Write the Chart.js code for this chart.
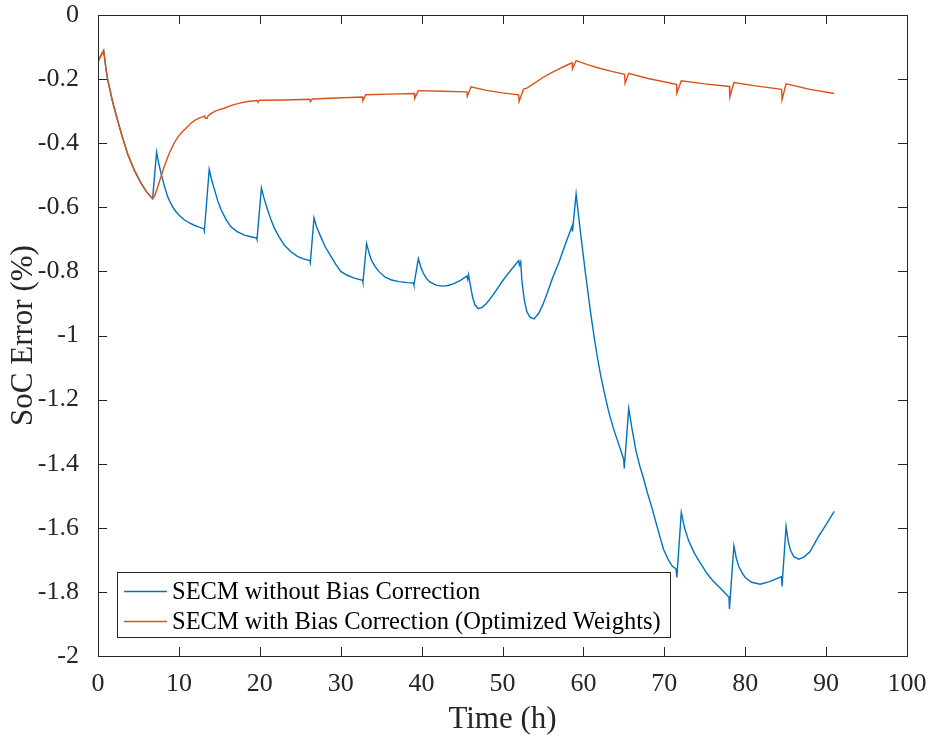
<!DOCTYPE html>
<html><head><meta charset="utf-8">
<script src="https://cdn.jsdelivr.net/npm/chart.js@4"></script>
<style>html,body{margin:0;padding:0;background:#fff}canvas{display:block}</style>
</head><body>
<canvas id="c" width="933" height="740"></canvas>
<script>
const seriesNames = ['SECM without Bias Correction', 'SECM with Bias Correction (Optimized Weights)'];
const seriesColors = ['#0072BD', '#D95319'];

// Time (h) and SoC error (%) for the series without bias correction
const tBlue = [0, 0.3, 0.7, 1.0, 1.2, 1.8, 2.4, 3.0, 3.7, 4.5, 5.3, 6.0, 6.75,
  7.24, 7.5, 7.78, 8.2, 8.6, 9.0, 9.42, 10.0, 10.65, 11.3, 11.9, 12.5, 13.1, 13.15,
  13.75, 14.0, 14.4, 14.8, 15.2, 15.8, 16.4, 17.2, 18.1, 18.9, 19.6, 19.65,
  20.2, 20.5, 20.95, 21.4, 21.8, 22.4, 23.0, 23.8, 24.65, 25.4, 26.2, 26.25,
  26.7, 27.0, 27.5, 28.1, 28.8, 29.4, 30.0, 30.8, 31.6, 32.7, 32.75,
  33.2, 33.5, 33.8, 34.2, 34.7, 35.5, 36.3, 37.2, 38.2, 39.0, 39.05,
  39.6, 39.9, 40.2, 40.6, 41.0, 41.8, 42.6, 43.3, 44.0, 44.8, 45.6, 45.7, 45.8, 46.0,
  46.3, 46.6, 47.0, 47.5, 48.0, 48.5, 49.2, 50.0, 51.0, 52.0, 52.1, 52.25, 52.4,
  52.7, 53.0, 53.4, 53.9, 54.5, 55.0, 55.5, 56.2, 57.0, 57.8, 58.6, 58.65,
  59.1, 59.6, 60.25, 60.9, 61.3, 61.7, 62.1, 62.5, 63.1, 63.75, 64.4, 64.98, 65.05,
  65.6, 66.0, 66.5, 67.0, 67.4, 67.9, 68.5, 69.2, 69.9, 70.5, 71.0, 71.45, 71.55,
  72.1, 72.5, 73.0, 73.7, 74.4, 75.2, 76.0, 77.0, 78.0, 78.05,
  78.6, 78.9, 79.2, 79.6, 80.0, 80.8, 81.85, 83.0, 84.5, 84.55,
  85.05, 85.3, 85.6, 86.0, 86.6, 87.2, 88.0, 89.0, 90.0, 91.0];
const vBlue = [-0.146, -0.13, -0.111, -0.17, -0.202, -0.27, -0.327, -0.38, -0.436, -0.485, -0.524, -0.552, -0.573,
  -0.428, -0.462, -0.493, -0.533, -0.566, -0.588, -0.607, -0.624, -0.639, -0.649, -0.656, -0.662, -0.667, -0.673,
  -0.481, -0.51, -0.545, -0.58, -0.607, -0.637, -0.66, -0.676, -0.687, -0.692, -0.696, -0.70,
  -0.540, -0.57, -0.607, -0.64, -0.665, -0.693, -0.717, -0.738, -0.753, -0.761, -0.766, -0.772,
  -0.633, -0.66, -0.69, -0.724, -0.753, -0.778, -0.80, -0.812, -0.82, -0.828, -0.834,
  -0.713, -0.742, -0.765, -0.783, -0.80, -0.818, -0.827, -0.832, -0.835, -0.836, -0.842,
  -0.760, -0.786, -0.805, -0.822, -0.833, -0.843, -0.846, -0.844, -0.838, -0.828, -0.815, -0.825, -0.810, -0.84,
  -0.88, -0.905, -0.916, -0.912, -0.90, -0.885, -0.86, -0.83, -0.797, -0.766, -0.78, -0.77, -0.83,
  -0.89, -0.925, -0.943, -0.948, -0.93, -0.903, -0.87, -0.82, -0.77, -0.713, -0.659, -0.675,
  -0.558, -0.670, -0.805, -0.93, -1.0, -1.064, -1.12, -1.168, -1.235, -1.293, -1.342, -1.386, -1.415,
  -1.228, -1.29, -1.36, -1.41, -1.443, -1.49, -1.54, -1.605, -1.667, -1.70, -1.72, -1.728, -1.755,
  -1.552, -1.60, -1.64, -1.678, -1.708, -1.74, -1.765, -1.79, -1.817, -1.853,
  -1.656, -1.695, -1.72, -1.74, -1.755, -1.77, -1.776, -1.768, -1.752, -1.783,
  -1.596, -1.64, -1.67, -1.69, -1.698, -1.692, -1.675, -1.63, -1.59, -1.549];

// Time (h) and SoC error (%) for the series with bias correction
const tOrange = [0, 0.3, 0.7, 1.0, 1.2, 1.8, 2.4, 3.0, 3.7, 4.5, 5.3, 6.0, 6.75,
  7.0, 7.4, 7.8, 8.2, 8.8, 9.4, 9.9, 10.4, 11.0, 11.5, 12.0, 12.5, 13.2, 13.25, 13.5, 13.6,
  14.0, 14.5, 15.0, 15.6, 16.5, 17.5, 18.5, 19.7, 19.75, 20.0,
  23.0, 26.2, 26.25, 26.5, 29.5, 32.7, 32.75, 33.1, 36.0, 39.1, 39.15, 39.6, 42.5, 45.6, 45.65, 46.1,
  48.0, 50.0, 52.0, 52.05, 52.6, 53.0, 54.0, 55.0, 55.9, 57.0, 58.0, 58.6, 58.65, 59.1,
  60.5, 62.0, 63.5, 65.1, 65.15, 65.6, 68.0, 71.5, 71.55, 72.1, 75.0, 78.05, 78.1, 78.6,
  81.5, 84.5, 84.55, 85.05, 88.0, 91.0];
const vOrange = [-0.146, -0.13, -0.111, -0.17, -0.202, -0.27, -0.327, -0.38, -0.436, -0.485, -0.524, -0.552, -0.573,
  -0.565, -0.535, -0.503, -0.472, -0.432, -0.40, -0.38, -0.365, -0.35, -0.337, -0.328, -0.322, -0.315, -0.322, -0.322, -0.315,
  -0.307, -0.30, -0.295, -0.291, -0.282, -0.275, -0.27, -0.267, -0.27, -0.266,
  -0.265, -0.263, -0.27, -0.262, -0.259, -0.256, -0.267, -0.249, -0.247, -0.245, -0.26, -0.236, -0.238, -0.24, -0.254, -0.224,
  -0.235, -0.243, -0.249, -0.27, -0.231, -0.228, -0.212, -0.195, -0.182, -0.168, -0.156, -0.149, -0.168, -0.142,
  -0.155, -0.166, -0.176, -0.185, -0.213, -0.182, -0.198, -0.216, -0.244, -0.205, -0.215, -0.223, -0.256, -0.211,
  -0.222, -0.232, -0.265, -0.215, -0.232, -0.245];

const xTickValues = [0, 10, 20, 30, 40, 50, 60, 70, 80, 90, 100];
const xTickLabels = ['0', '10', '20', '30', '40', '50', '60', '70', '80', '90', '100'];
const yTickValues = [0, -0.2, -0.4, -0.6, -0.8, -1, -1.2, -1.4, -1.6, -1.8, -2];
const yTickLabels = ['0', '-0.2', '-0.4', '-0.6', '-0.8', '-1', '-1.2', '-1.4', '-1.6', '-1.8', '-2'];
const xTitle = 'Time (h)';
const yTitle = 'SoC Error (%)';

const FONT = '"Liberation Serif", "Times New Roman", serif';
const AXIS_COLOR = '#262626';

function toPoints(t, v) { return t.map((x, i) => ({ x: x, y: v[i] })); }
function labelFor(values, labels, val) {
  const i = values.findIndex(x => Math.abs(x - val) < 1e-9);
  return i >= 0 ? labels[i] : '';
}

const framePlugin = {
  id: 'frame',
  afterDatasetsDraw(chart) {
    const { ctx, chartArea: a, scales } = chart;
    ctx.save();
    ctx.strokeStyle = AXIS_COLOR;
    ctx.lineWidth = 1;
    ctx.strokeRect(Math.round(a.left) + 0.5, Math.round(a.top) + 0.5, Math.round(a.right - a.left), Math.round(a.bottom - a.top));
    const tl = 9;
    ctx.beginPath();
    xTickValues.forEach(v => {
      const px = Math.round(scales.x.getPixelForValue(v)) + 0.5;
      ctx.moveTo(px, a.bottom); ctx.lineTo(px, a.bottom - tl);
      ctx.moveTo(px, a.top); ctx.lineTo(px, a.top + tl);
    });
    yTickValues.forEach(v => {
      const py = Math.round(scales.y.getPixelForValue(v)) + 0.5;
      ctx.moveTo(a.left, py); ctx.lineTo(a.left + tl, py);
      ctx.moveTo(a.right, py); ctx.lineTo(a.right - tl, py);
    });
    ctx.stroke();

    // legend box
    const lx = 117.5, ly = 572.5, lw = 553, lh = 65;
    ctx.fillStyle = '#fff';
    ctx.fillRect(lx, ly, lw, lh);
    ctx.strokeStyle = AXIS_COLOR;
    ctx.strokeRect(lx, ly, lw, lh);
    ctx.font = '24.5px ' + FONT;
    ctx.textBaseline = 'middle';
    ctx.textAlign = 'left';
    const rows = [591.5, 621.5];
    chart.data.datasets.forEach((ds, i) => {
      ctx.strokeStyle = ds.borderColor;
      ctx.lineWidth = 1.4;
      ctx.beginPath();
      ctx.moveTo(124, rows[i]); ctx.lineTo(167, rows[i]);
      ctx.stroke();
      ctx.fillStyle = '#000';
      ctx.fillText(ds.label, 172, rows[i] + 1);
    });
    ctx.restore();
  }
};

new Chart(document.getElementById('c'), {
  type: 'line',
  data: {
    datasets: [
      { label: seriesNames[0], data: toPoints(tBlue, vBlue), borderColor: seriesColors[0], backgroundColor: seriesColors[0],
        borderWidth: 1.4, pointRadius: 0, tension: 0, fill: false, order: 1 },
      { label: seriesNames[1], data: toPoints(tOrange, vOrange), borderColor: seriesColors[1], backgroundColor: seriesColors[1],
        borderWidth: 1.4, pointRadius: 0, tension: 0, fill: false, order: 0 }
    ]
  },
  options: {
    responsive: false,
    animation: false,
    devicePixelRatio: 1,
    layout: { padding: { top: 15, right: 26, left: 0, bottom: 0 } },
    plugins: { legend: { display: false }, tooltip: { enabled: false } },
    scales: {
      x: {
        type: 'linear', min: 0, max: 100,
        afterBuildTicks: s => { s.ticks = xTickValues.map(v => ({ value: v })); },
        afterFit: s => { s.height = 84; s.paddingLeft = 0; s.paddingRight = 0; },
        grid: { display: false },
        border: { display: false },
        ticks: { color: AXIS_COLOR, font: { family: FONT, size: 26 }, padding: 5, maxRotation: 0, autoSkip: false,
          callback: v => labelFor(xTickValues, xTickLabels, v) },
        title: { display: true, text: xTitle, color: AXIS_COLOR, font: { family: FONT, size: 31 }, padding: { top: 0, bottom: 2 } }
      },
      y: {
        type: 'linear', min: -2, max: 0,
        afterBuildTicks: s => { s.ticks = yTickValues.map(v => ({ value: v })); },
        afterFit: s => { s.width = 98; s.paddingTop = 0; s.paddingBottom = 0; },
        grid: { display: false },
        border: { display: false },
        ticks: { color: AXIS_COLOR, font: { family: FONT, size: 26 }, padding: 11, autoSkip: false,
          callback: v => labelFor(yTickValues, yTickLabels, v) },
        title: { display: true, text: yTitle, color: AXIS_COLOR, font: { family: FONT, size: 31 }, padding: { top: 5, bottom: 0 } }
      }
    }
  },
  plugins: [framePlugin]
});
</script>
</body></html>
